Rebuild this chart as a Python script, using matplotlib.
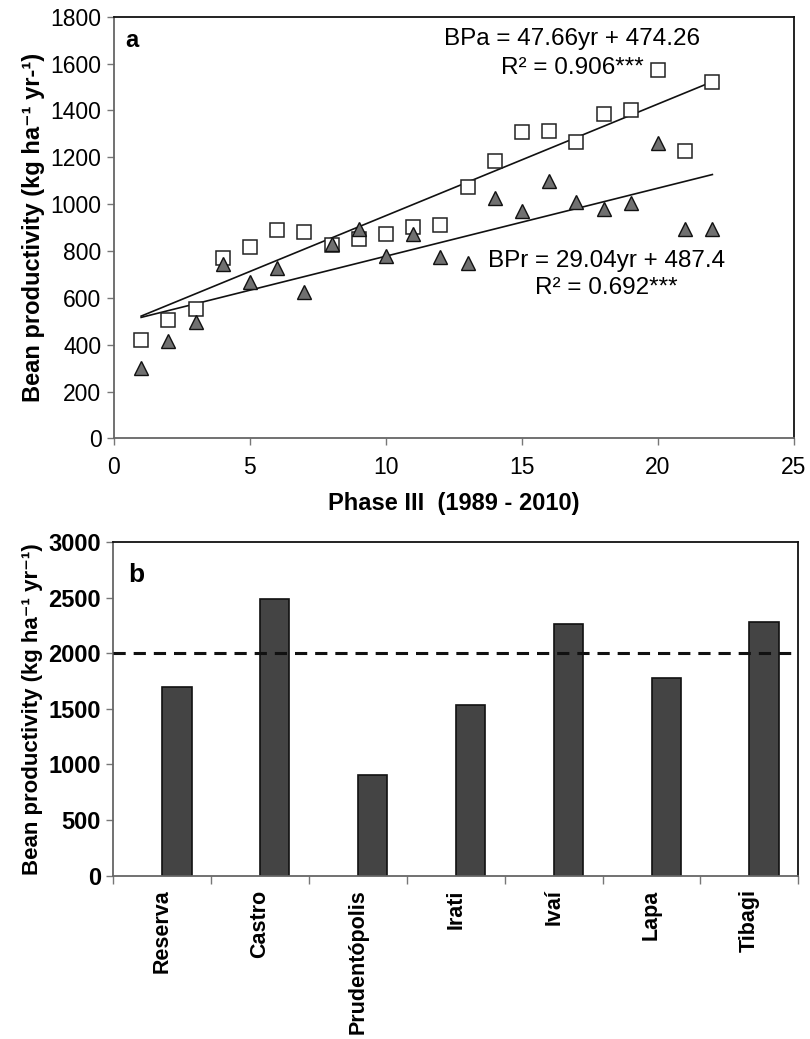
import matplotlib
matplotlib.use("Agg")
import matplotlib.pyplot as plt
import numpy as np

# ---- data panel a ----
years = list(range(1, 23))
bpa = [421, 504, 553, 771, 817, 890, 883, 824, 853, 874, 903, 910,
       1074, 1183, 1307, 1314, 1264, 1386, 1403, 1571, 1226, 1521]
bpr = [300, 414, 497, 743, 668, 728, 626, 828, 893, 778, 871, 776,
       750, 1026, 969, 1100, 1011, 978, 1004, 1261, 893, 893]
fit_a = (47.66, 474.26)
fit_r = (29.04, 487.4)

# ---- data panel b ----
sites = ["Reserva", "Castro", "Prudentópolis", "Irati", "Ivaí", "Lapa", "Tibagi"]
site_vals = [1700, 2490, 900, 1535, 2265, 1775, 2280]
threshold = 2000

REG = ["Liberation Sans", "DejaVu Sans"]

fig = plt.figure(figsize=(8.1, 10.39), dpi=100)

# ---------------- panel a ----------------
ax = fig.add_axes([0.1407, 0.5781, 0.8395, 0.4058])
ax.plot(years, bpa, linestyle="none", marker="s", markersize=9.5,
        markerfacecolor="white", markeredgecolor="#222222", markeredgewidth=1.1, zorder=3)
ax.plot(years, bpr, linestyle="none", marker="^", markersize=10,
        markerfacecolor="#707070", markeredgecolor="#111111", markeredgewidth=1.0, zorder=3)
xx = np.array([years[0], years[-1]])
ax.plot(xx, fit_a[0] * xx + fit_a[1], color="#111111", lw=1.2, zorder=2)
ax.plot(xx, fit_r[0] * xx + fit_r[1], color="#111111", lw=1.2, zorder=2)

ax.set_xlim(0, 25)
ax.set_ylim(0, 1800)
ax.set_xticks(range(0, 26, 5))
ax.set_yticks(range(0, 1801, 200))
for lab in ax.get_xticklabels() + ax.get_yticklabels():
    lab.set_family(REG)
    lab.set_fontsize(16.5)
ax.tick_params(direction="out", length=5, width=1, color="#777777", pad=4)
ax.tick_params(axis="x", pad=8)
for s in ["left", "bottom"]:
    ax.spines[s].set_color("#666666")
for s in ["top", "right"]:
    ax.spines[s].set_color("#111111")
for s in ax.spines.values():
    s.set_linewidth(1.3)

ax.set_ylabel("Bean productivity (kg ha\u207b\u00b9 yr-\u00b9)", family=REG,
              fontsize=17, fontweight="bold", labelpad=4)
ax.set_xlabel("Phase III  (1989 - 2010)", family=REG, fontsize=17,
              fontweight="bold", labelpad=9)
ax.text(0.4, 1700, "a", fontsize=17, fontweight="bold", family=REG, va="center")
eq_fs = 17.5
ax.text(16.85, 1707, "BPa = 47.66yr + 474.26", fontsize=eq_fs, family=REG,
        ha="center", va="center")
ax.text(16.85, 1579, "R² = 0.906***", fontsize=eq_fs, family=REG,
        ha="center", va="center")
ax.text(18.1, 757, "BPr = 29.04yr + 487.4", fontsize=eq_fs, family=REG,
        ha="center", va="center")
ax.text(18.1, 644, "R² = 0.692***", fontsize=eq_fs, family=REG,
        ha="center", va="center")

# ---------------- panel b ----------------
bx = fig.add_axes([0.1399, 0.1573, 0.8457, 0.3211])
pos = np.arange(len(sites))
bx.bar(pos + 0.15, site_vals, width=0.3, color="#444444",
       edgecolor="#111111", linewidth=1.2, zorder=2)
bx.axhline(threshold, color="#111111", lw=2.2, dashes=(4, 2.6), zorder=3)
bx.set_xlim(-0.5, len(sites) - 0.5)
bx.set_ylim(0, 3000)
bx.set_yticks(range(0, 3001, 500))
bx.set_xticks(pos)
bx.set_xticklabels(sites, rotation=90, family=REG, fontsize=15.5,
                   fontweight="bold", va="top", ha="center")
bx.set_xticks(np.arange(len(sites) + 1) - 0.5, minor=True)
bx.tick_params(axis="x", which="major", length=0, pad=10)
bx.tick_params(axis="x", which="minor", length=6, width=1, color="#777777",
               direction="out")
bx.tick_params(axis="y", direction="out", length=5, width=1, color="#777777", pad=4)
for lab in bx.get_yticklabels():
    lab.set_family(REG)
    lab.set_fontsize(17)
    lab.set_fontweight("bold")
for s in ["left", "bottom"]:
    bx.spines[s].set_color("#666666")
for s in ["top", "right"]:
    bx.spines[s].set_color("#111111")
for s in bx.spines.values():
    s.set_linewidth(1.3)
bx.set_ylabel("Bean productivity (kg ha\u207b\u00b9 yr\u207b\u00b9)", family=REG,
              fontsize=16, fontweight="bold", labelpad=4)
bx.text(0.022, 0.9, "b", transform=bx.transAxes, fontsize=19,
        fontweight="bold", family=REG, va="center")

fig.savefig("out.png", dpi=100)
